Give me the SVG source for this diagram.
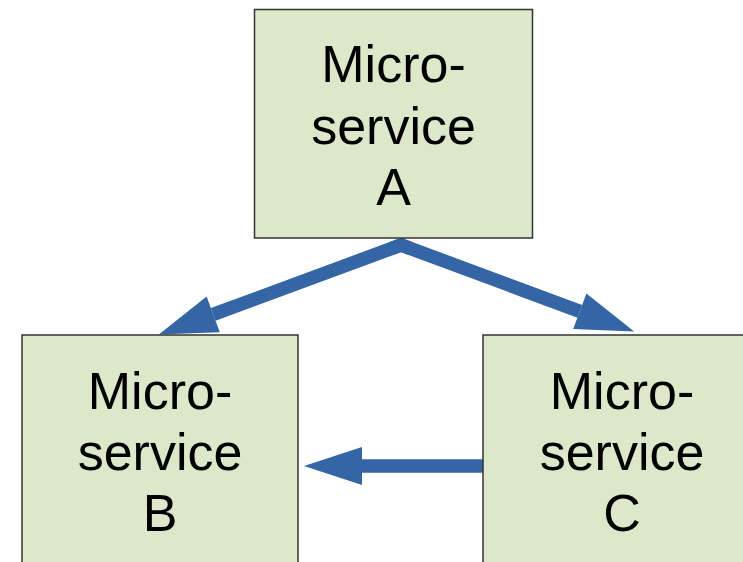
<svg xmlns="http://www.w3.org/2000/svg" width="743" height="562" viewBox="0 0 743 562">
  <style>
    .box { fill: #dde8cb; stroke: #333333; stroke-width: 1.5; }
    .lbl { font-family: "Liberation Sans", Arial, sans-serif; font-size: 52px; fill: #000000; text-anchor: middle; }
    .conn { fill: none; stroke: #3465a4; stroke-width: 13.5; stroke-linejoin: miter; }
  </style>
  <defs>
    <marker id="arrow" markerUnits="userSpaceOnUse" markerWidth="58" markerHeight="38" refX="0" refY="19" orient="auto" overflow="visible">
      <path d="M0,0 L58,19 L0,38 Z" fill="#3465a4"/>
    </marker>
  </defs>
  <rect width="743" height="562" fill="#ffffff"/>
  <g id="connectors">
    <path id="a-to-b" class="conn" d="M410.4,248.5 L401,245 L213.2,314.4" marker-end="url(#arrow)"/>
    <path id="a-to-c" class="conn" d="M391.6,248.5 L401,245 L579.8,311.3" marker-end="url(#arrow)"/>
    <path id="c-to-b" class="conn" d="M484,466 L362,466" marker-end="url(#arrow)"/>
  </g>
  <g id="node-a">
    <rect class="box" x="254.5" y="9.5" width="278" height="228.5"/>
    <text class="lbl" x="393.5" y="82">Micro-</text>
    <text class="lbl" x="393.5" y="143.5">service</text>
    <text class="lbl" x="393.5" y="205">A</text>
  </g>
  <g id="node-b">
    <rect class="box" x="22" y="335" width="276" height="240"/>
    <text class="lbl" x="160" y="409">Micro-</text>
    <text class="lbl" x="160" y="470">service</text>
    <text class="lbl" x="160" y="531">B</text>
  </g>
  <g id="node-c">
    <rect class="box" x="483" y="335" width="276" height="240"/>
    <text class="lbl" x="622" y="409">Micro-</text>
    <text class="lbl" x="622" y="470">service</text>
    <text class="lbl" x="622" y="531">C</text>
  </g>
</svg>
